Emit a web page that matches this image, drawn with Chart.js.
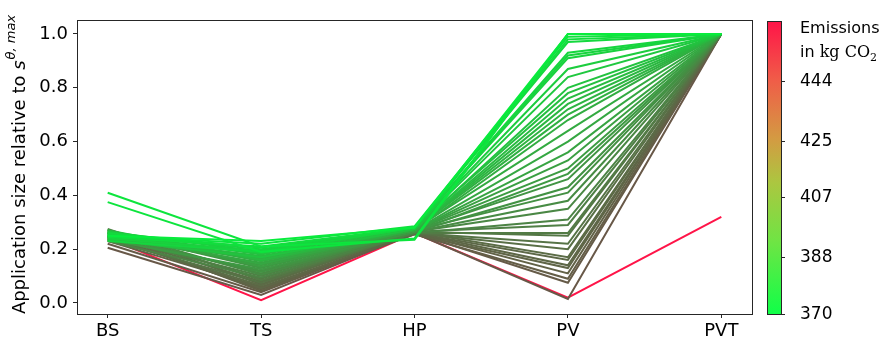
<!DOCTYPE html>
<html>
<head>
<meta charset="utf-8">
<script src="https://cdn.jsdelivr.net/npm/chart.js@4/dist/chart.umd.min.js"></script>
<style>
  html, body { margin: 0; padding: 0; background: #fff; }
  #chart { display: block; }
</style>
</head>
<body>
<canvas id="chart" width="888" height="342"></canvas>
<script>
// axes of the parallel plot
var categories = ['BS', 'TS', 'HP', 'PV', 'PVT'];

// one entry per solution (first = highest emissions)
var emissions = [463, 396, 395, 394, 393, 392, 391.5, 391, 390, 389, 388, 387, 386, 385, 384, 383, 382, 381, 380.5, 380, 379, 378.5, 378, 377, 376.5, 376, 375.5, 375, 374.5, 374, 373.5, 373, 372.5, 372, 371.5, 371.2, 371, 370.8, 370.6, 370.4, 370.2, 370.1, 370.1, 370];
var bs  = [0.24, 0.205, 0.22, 0.25, 0.26, 0.23, 0.245, 0.27, 0.24, 0.25, 0.235, 0.26, 0.275, 0.245, 0.23, 0.255, 0.27, 0.24, 0.25, 0.265, 0.235, 0.255, 0.27, 0.245, 0.26, 0.25, 0.265, 0.24, 0.255, 0.27, 0.245, 0.26, 0.235, 0.25, 0.265, 0.24, 0.255, 0.23, 0.26, 0.245, 0.25, 0.41, 0.375, 0.25];
var ts  = [0.01, 0.03, 0.04, 0.05, 0.045, 0.06, 0.055, 0.07, 0.065, 0.08, 0.075, 0.09, 0.085, 0.10, 0.095, 0.11, 0.105, 0.12, 0.115, 0.13, 0.125, 0.14, 0.135, 0.15, 0.145, 0.16, 0.155, 0.165, 0.17, 0.16, 0.175, 0.18, 0.17, 0.185, 0.19, 0.195, 0.2, 0.19, 0.205, 0.21, 0.22, 0.21, 0.19, 0.23];
var hp  = [0.26, 0.26, 0.26, 0.255, 0.26, 0.255, 0.26, 0.26, 0.265, 0.26, 0.26, 0.265, 0.26, 0.265, 0.26, 0.265, 0.265, 0.27, 0.265, 0.27, 0.265, 0.27, 0.27, 0.27, 0.27, 0.275, 0.27, 0.275, 0.275, 0.275, 0.275, 0.28, 0.275, 0.28, 0.28, 0.28, 0.28, 0.28, 0.28, 0.28, 0.285, 0.235, 0.24, 0.28];
var pv  = [0.02, 0.015, 0.075, 0.09, 0.11, 0.13, 0.14, 0.16, 0.17, 0.20, 0.22, 0.25, 0.26, 0.29, 0.31, 0.35, 0.38, 0.41, 0.43, 0.46, 0.48, 0.50, 0.53, 0.56, 0.60, 0.64, 0.68, 0.70, 0.72, 0.74, 0.76, 0.78, 0.80, 0.84, 0.87, 0.91, 0.92, 0.93, 0.97, 0.98, 0.99, 1.0, 1.0, 1.0];
var pvt = [0.32, 1, 1, 1, 1, 1, 1, 1, 1, 1, 1, 1, 1, 1, 1, 1, 1, 1, 1, 1, 1, 1, 1, 1, 1, 1, 1, 1, 1, 1, 1, 1, 1, 1, 1, 1, 1, 1, 1, 1, 1, 1, 1, 1];

// colour bar
var cbarMin = 370, cbarMax = 463;
var cbarTicks = [370, 388, 407, 425, 444];

var series = [bs, ts, hp, pv, pvt];

function mix(a, b, t) {
  return [0, 1, 2].map(function (k) { return Math.round(a[k] + (b[k] - a[k]) * t); });
}

function lineColor(e) {
  if (e > 420) return 'rgb(255,20,72)';
  var t = Math.min(1, Math.max(0, (e - 370) / 26));
  t = Math.pow(t, 0.55);
  var c = mix([8, 236, 60], [104, 88, 72], t);
  return 'rgb(' + c.join(',') + ')';
}

var datasets = emissions.map(function (e, i) {
  return {
    label: 'solution ' + (i + 1),
    data: categories.map(function (c, j) { return { x: j, y: series[j][i] }; }),
    borderColor: lineColor(e),
    borderWidth: 2,
    pointRadius: 0,
    tension: 0,
    order: i === 0 ? 1000 : emissions.length - i
  };
});

var frame = {
  id: 'frame',
  afterDraw: function (chart) {
    var ctx = chart.ctx, a = chart.chartArea;
    ctx.save();
    ctx.strokeStyle = '#262626';
    ctx.lineWidth = 1;
    ctx.strokeRect(a.left + 0.5, a.top + 0.5, a.right - a.left, a.bottom - a.top);

    // y axis title with superscript
    var main = 'Application size relative to ';
    ctx.translate(20, 165);
    ctx.rotate(-Math.PI / 2);
    ctx.fillStyle = '#000';
    ctx.textBaseline = 'middle';
    ctx.font = '18px "DejaVu Sans"';
    var w1 = ctx.measureText(main).width;
    ctx.font = 'italic 18px "DejaVu Sans"';
    var w2 = ctx.measureText('s').width;
    ctx.font = 'italic 13px "DejaVu Sans"';
    var w3 = ctx.measureText('\u03B8, max').width;
    var x0 = -(w1 + w2 + w3) / 2;
    ctx.font = '18px "DejaVu Sans"';
    ctx.fillText(main, x0, 0);
    ctx.font = 'italic 18px "DejaVu Sans"';
    ctx.fillText('s', x0 + w1, 0);
    ctx.font = 'italic 13px "DejaVu Sans"';
    ctx.fillText('\u03B8, max', x0 + w1 + w2 + 1, -8);
    ctx.restore();

    // colour bar
    var cx = 767, cw = 14, top = 21, bot = 314;
    ctx.save();
    var g = ctx.createLinearGradient(0, bot, 0, top);
    g.addColorStop(0, '#10ff48');
    g.addColorStop(0.25, '#70e444');
    g.addColorStop(0.45, '#acc640');
    g.addColorStop(0.6, '#d49a42');
    g.addColorStop(0.8, '#f05c48');
    g.addColorStop(1, '#ff1448');
    ctx.fillStyle = g;
    ctx.fillRect(cx, top, cw, bot - top);
    ctx.strokeStyle = '#262626';
    ctx.lineWidth = 1;
    ctx.strokeRect(cx + 0.5, top + 0.5, cw, bot - top);
    ctx.fillStyle = '#000';
    ctx.textBaseline = 'middle';
    ctx.font = '17px "DejaVu Sans"';
    cbarTicks.forEach(function (v) {
      var y = Math.round(bot - (v - cbarMin) / (cbarMax - cbarMin) * (bot - top)) + 0.5;
      ctx.beginPath();
      ctx.moveTo(cx + cw, y);
      ctx.lineTo(cx + cw + 4, y);
      ctx.stroke();
      ctx.fillText(String(v), 800, y);
    });
    ctx.font = '16px "DejaVu Sans"';
    ctx.fillText('Emissions', 800, 29);
    ctx.fillText('in', 800, 53);
    var wi = ctx.measureText('in ').width;
    ctx.font = '16px "DejaVu Serif"';
    ctx.fillText('kg CO', 800 + wi, 53);
    var wk = ctx.measureText('kg CO').width;
    ctx.font = '11px "DejaVu Serif"';
    ctx.fillText('2', 800 + wi + wk, 58);
    ctx.restore();
  }
};

new Chart(document.getElementById('chart'), {
  type: 'line',
  data: { datasets: datasets },
  plugins: [frame],
  options: {
    responsive: false,
    animation: false,
    layout: { padding: { top: 20, right: 136, left: 0, bottom: 0 } },
    plugins: { legend: { display: false }, tooltip: { enabled: false } },
    scales: {
      x: {
        type: 'linear',
        min: -0.2,
        max: 4.2,
        afterBuildTicks: function (s) { s.ticks = categories.map(function (c, j) { return { value: j }; }); },
        afterFit: function (s) { s.height = 28; },
        grid: { drawOnChartArea: false, drawTicks: true, tickLength: 4, color: '#262626' },
        border: { display: false },
        ticks: {
          color: '#000',
          padding: 3,
          maxRotation: 0,
          font: { family: 'DejaVu Sans', size: 18 },
          callback: function (v) { return categories[v]; }
        }
      },
      y: {
        min: -0.041,
        max: 1.052,
        afterBuildTicks: function (s) { s.ticks = [0, 0.2, 0.4, 0.6, 0.8, 1.0].map(function (v) { return { value: v }; }); },
        afterFit: function (s) { s.width = 77; },
        grid: { drawOnChartArea: false, drawTicks: true, tickLength: 4, color: '#262626' },
        border: { display: false },
        ticks: {
          color: '#000',
          padding: 5,
          font: { family: 'DejaVu Sans', size: 18 },
          callback: function (v) { return v.toFixed(1); }
        }
      }
    }
  }
});
</script>
</body>
</html>
